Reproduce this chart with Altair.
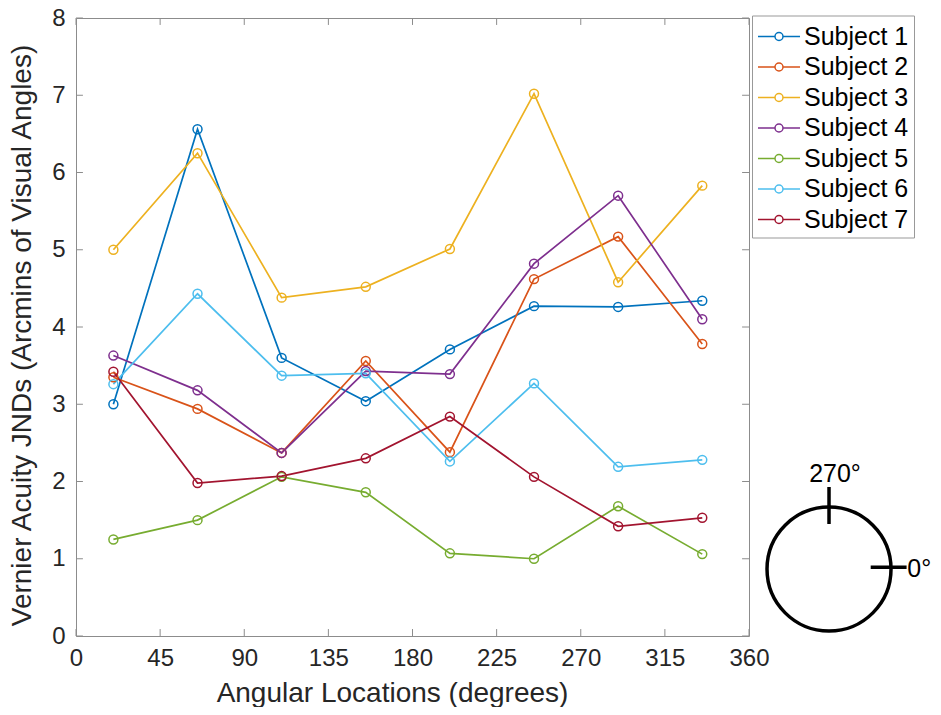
import altair as alt
import pandas as pd

angles = [20, 65, 110, 155, 200, 245, 290, 335]
subjects = ["Subject 1", "Subject 2", "Subject 3", "Subject 4", "Subject 5", "Subject 6", "Subject 7"]
s1 = [3.00, 6.56, 3.60, 3.04, 3.71, 4.27, 4.26, 4.34]
s2 = [3.35, 2.94, 2.37, 3.56, 2.38, 4.62, 5.17, 3.78]
s3 = [5.00, 6.25, 4.38, 4.52, 5.01, 7.02, 4.58, 5.83]
s4 = [3.63, 3.18, 2.37, 3.43, 3.39, 4.82, 5.70, 4.10]
s5 = [1.25, 1.50, 2.06, 1.86, 1.07, 1.00, 1.68, 1.06]
s6 = [3.26, 4.43, 3.37, 3.40, 2.26, 3.27, 2.19, 2.28]
s7 = [3.42, 1.98, 2.07, 2.30, 2.84, 2.06, 1.42, 1.53]
colors = ["#0072BD", "#D95319", "#EDB120", "#7E2F8E", "#77AC30", "#4DBEEE", "#A2142F"]
x_ticks = [0, 45, 90, 135, 180, 225, 270, 315, 360]
y_ticks = [0, 1, 2, 3, 4, 5, 6, 7, 8]

series = [s1, s2, s3, s4, s5, s6, s7]
rows = []
for name, vals in zip(subjects, series):
    for a, v in zip(angles, vals):
        rows.append({"angle": a, "jnd": v, "subject": name})
df = pd.DataFrame(rows)

FONT = "Liberation Sans"
TXT = "#262626"
GRAY = "#8c8c8c"

xs = alt.Scale(domain=[0, 360], nice=False, zero=False)
ys = alt.Scale(domain=[0, 8], nice=False)

# legend glyph: line with open circle; unit = 15px, spans -1..1.8 (42px wide)
legend_path = ("M-1,0 L0.133,0 M0.667,0 L1.8,0 "
               "M0.667,0 A0.267,0.267 0 1,1 0.133,0 A0.267,0.267 0 1,1 0.667,0")

legend = alt.Legend(
    title=None, orient="none", legendX=676, legendY=-2.5,
    strokeColor="#999999", fillColor="white", padding=5,
    labelFont=FONT, labelFontSize=25, labelColor="black",
    symbolType=legend_path, symbolSize=900, symbolStrokeWidth=1.5,
    symbolFillColor="white", labelOffset=15, rowPadding=1.5,
)

color = alt.Color("subject:N", scale=alt.Scale(domain=subjects, range=colors), legend=legend)

xaxis = alt.Axis(values=x_ticks, title="Angular Locations (degrees)", grid=False,
                 ticks=False, domain=False, labelPadding=10, format="d", labelFlush=False,
                 titleX=316, titleY=65, titleBaseline="alphabetic", titleAlign="center",
                 labelFont=FONT, labelFontSize=24, labelColor=TXT,
                 titleFont=FONT, titleFontSize=28, titleColor=TXT, titleFontWeight="normal")
yaxis = alt.Axis(values=y_ticks, title="Vernier Acuity JNDs (Arcmins of Visual Angles)", grid=False,
                 ticks=False, domain=False, labelPadding=11, format="d", labelFlush=False,
                 titleX=-46, titleY=317, titleBaseline="alphabetic", titleAlign="center", titleAngle=270,
                 labelFont=FONT, labelFontSize=24, labelColor=TXT,
                 titleFont=FONT, titleFontSize=28, titleColor=TXT, titleFontWeight="normal")

base = alt.Chart(df).encode(
    x=alt.X("angle:Q", scale=xs, axis=xaxis),
    y=alt.Y("jnd:Q", scale=ys, axis=yaxis),
    color=color,
)
lines = base.mark_line(strokeWidth=1.7)
points = base.mark_point(shape="circle", filled=False, size=80, strokeWidth=1.5, opacity=1)

# inward axis ticks
tx = pd.DataFrame({"t": x_ticks})
ty = pd.DataFrame({"t": y_ticks})
tick_len_y = 0.09
tick_len_x = 3.7
bt = alt.Chart(tx).mark_rule(color=GRAY, strokeWidth=1).encode(
    x=alt.X("t:Q", scale=xs), y=alt.datum(0), y2=alt.datum(tick_len_y))
tt = alt.Chart(tx).mark_rule(color=GRAY, strokeWidth=1).encode(
    x=alt.X("t:Q", scale=xs), y=alt.datum(8), y2=alt.datum(8 - tick_len_y))
lt = alt.Chart(ty).mark_rule(color=GRAY, strokeWidth=1).encode(
    y=alt.Y("t:Q", scale=ys), x=alt.datum(0), x2=alt.datum(tick_len_x))
rt = alt.Chart(ty).mark_rule(color=GRAY, strokeWidth=1).encode(
    y=alt.Y("t:Q", scale=ys), x=alt.datum(360), x2=alt.datum(360 - tick_len_x))

# orientation inset (circle with 270 deg and 0 deg markers)
circ = alt.Chart(pd.DataFrame({"cx": [402.8], "cy": [0.867]})).mark_point(
    shape="circle", filled=False, size=15376, strokeWidth=3.5, color="black", clip=False, opacity=1
).encode(x=alt.X("cx:Q", scale=xs), y=alt.Y("cy:Q", scale=ys))
vt = alt.Chart(pd.DataFrame({"x": [402.8], "y1": [1.929], "y2": [1.450]})).mark_rule(
    color="black", strokeWidth=3.5, clip=False
).encode(x=alt.X("x:Q", scale=xs), y=alt.Y("y1:Q", scale=ys), y2="y2:Q")
ht = alt.Chart(pd.DataFrame({"x1": [425.1], "x2": [444.3], "y": [0.889]})).mark_rule(
    color="black", strokeWidth=3.5, clip=False
).encode(x=alt.X("x1:Q", scale=xs), x2="x2:Q", y=alt.Y("y:Q", scale=ys))
lab270 = alt.Chart(pd.DataFrame({"x": [406.0], "y": [1.997], "t": ["270°"]})).mark_text(
    font=FONT, fontSize=25, color="black", baseline="alphabetic", align="center", clip=False
).encode(x=alt.X("x:Q", scale=xs), y=alt.Y("y:Q", scale=ys), text="t:N")
lab0 = alt.Chart(pd.DataFrame({"x": [457.5], "y": [0.764], "t": ["0°"]})).mark_text(
    font=FONT, fontSize=25, color="black", baseline="alphabetic", align="right", clip=False
).encode(x=alt.X("x:Q", scale=xs), y=alt.Y("y:Q", scale=ys), text="t:N")

chart = alt.layer(bt, tt, lt, rt, lines, points, circ, vt, ht, lab270, lab0).properties(
    width=673, height=618,
    autosize=alt.AutoSizeParams(type="none"),
    padding={"left": 68, "top": 10, "right": 184, "bottom": 71},
).configure_view(stroke=GRAY, strokeWidth=1)

chart.save("out.html", embed_options={"renderer": "svg", "actions": False})
